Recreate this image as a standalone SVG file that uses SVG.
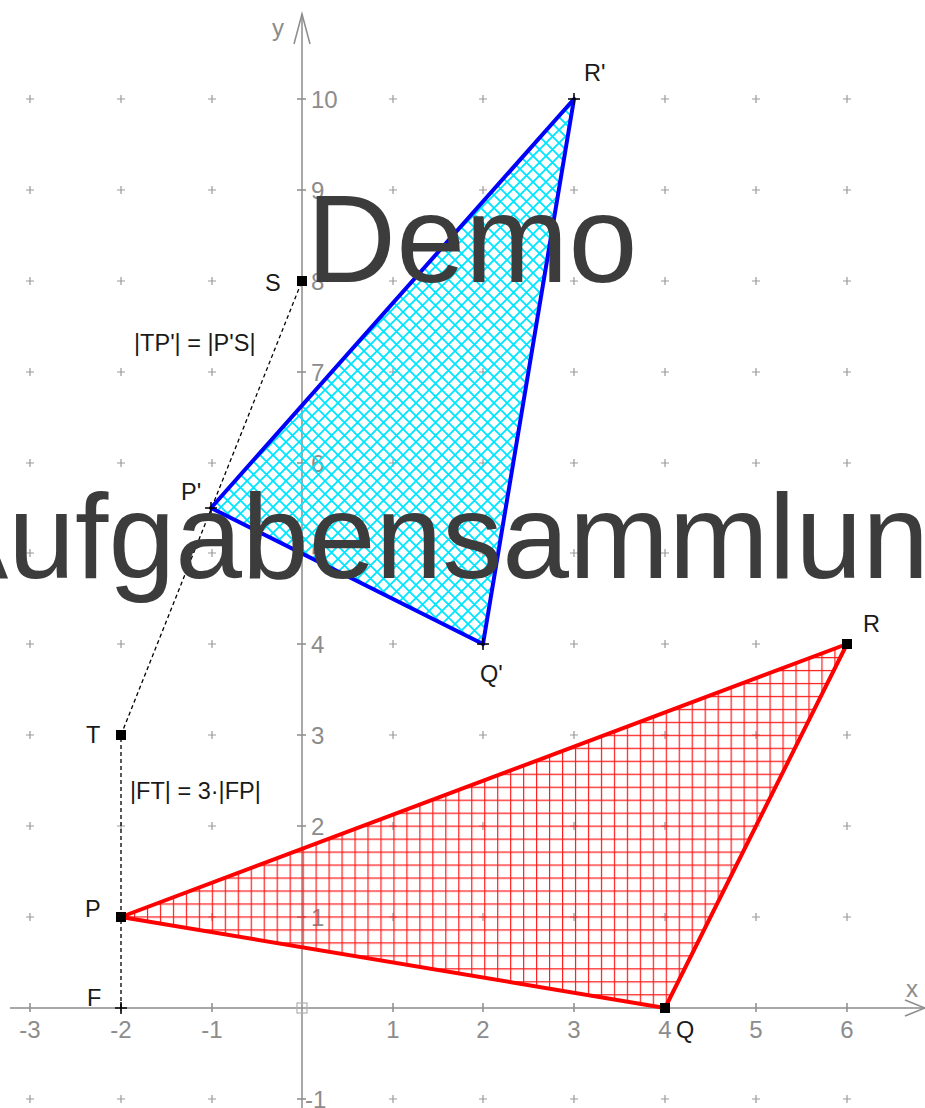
<svg xmlns="http://www.w3.org/2000/svg" width="925" height="1108" viewBox="0 0 925 1108">
<style>
.ax{stroke:#8c8c8c;stroke-width:1.5;fill:none}
.gc{stroke:#9a9a9a;stroke-width:1.2}
.tl{font-family:"Liberation Sans",Arial,sans-serif;font-size:24px;fill:#8c8c8c}
.lb{font-family:"Liberation Sans",Arial,sans-serif;font-size:23.5px;fill:#1a1a1a}
.dash{stroke:#000;stroke-width:1.3;stroke-dasharray:4 3;fill:none}
.pt{fill:#000}
.cr{stroke:#000;stroke-width:1.5}
.wm{font-family:"Liberation Sans",Arial,sans-serif;fill:#3c3c3c;text-anchor:middle}
</style>
<defs>
<pattern id="redHatch" patternUnits="userSpaceOnUse" width="12.97" height="12.97" x="121" y="644">
<path d="M0 0V12.97M0 0H12.97" stroke="#ff1a1a" stroke-width="2.4"/>
</pattern>
<pattern id="cyanHatch" patternUnits="userSpaceOnUse" width="13" height="13">
<path d="M0 0L13 13M13 0L0 13" stroke="#00e5ff" stroke-width="1.8"/>
</pattern>
</defs>
<g id="grid">
<path class="gc" d="M26 99h8M30 95v8M117 99h8M121 95v8M208 99h8M212 95v8M389 99h8M393 95v8M479 99h8M483 95v8M570 99h8M574 95v8M661 99h8M665 95v8M752 99h8M756 95v8M843 99h8M847 95v8
M26 190h8M30 186v8M117 190h8M121 186v8M208 190h8M212 186v8M389 190h8M393 186v8M479 190h8M483 186v8M570 190h8M574 186v8M661 190h8M665 186v8M752 190h8M756 186v8M843 190h8M847 186v8
M26 281h8M30 277v8M117 281h8M121 277v8M208 281h8M212 277v8M389 281h8M393 277v8M479 281h8M483 277v8M570 281h8M574 277v8M661 281h8M665 277v8M752 281h8M756 277v8M843 281h8M847 277v8
M26 372h8M30 368v8M117 372h8M121 368v8M208 372h8M212 368v8M389 372h8M393 368v8M479 372h8M483 368v8M570 372h8M574 368v8M661 372h8M665 368v8M752 372h8M756 368v8M843 372h8M847 368v8
M26 463h8M30 459v8M117 463h8M121 459v8M208 463h8M212 459v8M389 463h8M393 459v8M479 463h8M483 459v8M570 463h8M574 459v8M661 463h8M665 459v8M752 463h8M756 459v8M843 463h8M847 459v8
M26 553h8M30 549v8M117 553h8M121 549v8M208 553h8M212 549v8M389 553h8M393 549v8M479 553h8M483 549v8M570 553h8M574 549v8M661 553h8M665 549v8M752 553h8M756 549v8M843 553h8M847 549v8
M26 644h8M30 640v8M117 644h8M121 640v8M208 644h8M212 640v8M389 644h8M393 640v8M479 644h8M483 640v8M570 644h8M574 640v8M661 644h8M665 640v8M752 644h8M756 640v8M843 644h8M847 640v8
M26 735h8M30 731v8M117 735h8M121 731v8M208 735h8M212 731v8M389 735h8M393 731v8M479 735h8M483 731v8M570 735h8M574 731v8M661 735h8M665 731v8M752 735h8M756 731v8M843 735h8M847 731v8
M26 826h8M30 822v8M117 826h8M121 822v8M208 826h8M212 822v8M389 826h8M393 822v8M479 826h8M483 822v8M570 826h8M574 822v8M661 826h8M665 822v8M752 826h8M756 822v8M843 826h8M847 822v8
M26 917h8M30 913v8M117 917h8M121 913v8M208 917h8M212 913v8M389 917h8M393 913v8M479 917h8M483 913v8M570 917h8M574 913v8M661 917h8M665 913v8M752 917h8M756 913v8M843 917h8M847 913v8
M26 1099h8M30 1095v8M117 1099h8M121 1095v8M208 1099h8M212 1095v8M389 1099h8M393 1095v8M479 1099h8M483 1095v8M570 1099h8M574 1095v8M661 1099h8M665 1095v8M752 1099h8M756 1095v8M843 1099h8M847 1095v8"/>
</g>
<g id="axes">
<path class="ax" d="M10 1008H925M302 1108V14"/>
<path class="ax" d="M294 44L302 14L310 44M905 1000L925 1008L905 1016"/>
<path class="ax" d="M30 1003v9M121 1003v9M212 1003v9M393 1003v9M483 1003v9M574 1003v9M665 1003v9M756 1003v9M847 1003v9
M297 99h9M297 190h9M297 281h9M297 372h9M297 463h9M297 553h9M297 644h9M297 735h9M297 826h9M297 917h9M297 1099h9"/>
<rect x="297" y="1003" width="10" height="10" fill="none" stroke="#b0b0b0" stroke-width="1.2"/>
<text class="tl" x="272" y="36">y</text>
<text class="tl" x="906" y="997">x</text>
<g class="tl" text-anchor="middle">
<text x="30" y="1038">-3</text><text x="121" y="1038">-2</text><text x="212" y="1038">-1</text>
<text x="393" y="1038">1</text><text x="483" y="1038">2</text><text x="574" y="1038">3</text>
<text x="665" y="1038">4</text><text x="756" y="1038">5</text><text x="847" y="1038">6</text>
</g>
<g class="tl">
<text x="311" y="108">10</text><text x="311" y="199">9</text><text x="311" y="290">8</text>
<text x="311" y="381">7</text><text x="311" y="472">6</text><text x="311" y="562">5</text>
<text x="311" y="653">4</text><text x="311" y="744">3</text><text x="311" y="835">2</text>
<text x="311" y="926">1</text><text x="305" y="1108">-1</text>
</g>
</g>
<g id="connectors">
<path class="dash" d="M121 1008V735L302 281"/>
</g>
<g id="triangle-PQR">
<polygon points="121,917 665,1008 847,644" fill="url(#redHatch)" stroke="#ff0000" stroke-width="4" stroke-linejoin="round"/>
</g>
<g id="triangle-PprimeQprimeRprime">
<polygon points="211,508 483,644 574,99" fill="url(#cyanHatch)" stroke="#0000ff" stroke-width="4" stroke-linejoin="round"/>
</g>
<g id="point-P"><rect class="pt" x="116" y="912" width="10" height="10"/><text class="lb" x="85" y="917">P</text></g>
<g id="point-Q"><rect class="pt" x="660" y="1003" width="10" height="10"/><text class="lb" x="676" y="1038">Q</text></g>
<g id="point-R"><rect class="pt" x="842" y="639" width="10" height="10"/><text class="lb" x="863" y="632">R</text></g>
<g id="point-S"><rect class="pt" x="297" y="276" width="10" height="10"/><text class="lb" x="265" y="291">S</text></g>
<g id="point-T"><rect class="pt" x="116" y="730" width="10" height="10"/><text class="lb" x="86" y="743">T</text></g>
<g id="point-F"><path class="cr" d="M115 1008h12M121 1002v12"/><text class="lb" x="87" y="1006">F</text></g>
<g id="point-Pprime"><path class="cr" d="M205 508h12M211 502v12"/><text class="lb" x="181" y="500">P'</text></g>
<g id="point-Qprime"><path class="cr" d="M477 644h12M483 638v12"/><text class="lb" x="480" y="682">Q'</text></g>
<g id="point-Rprime"><path class="cr" d="M568 99h12M574 93v12"/><text class="lb" x="584" y="81">R'</text></g>
<g id="label-TP"><text class="lb" x="134" y="351">|TP'| = |P'S|</text></g>
<g id="label-FT"><text class="lb" x="130" y="799">|FT| = 3·|FP|</text></g>
<g id="watermark">
<text class="wm" x="472" y="282" style="font-size:124px">Demo</text>
<text class="wm" x="462" y="578" style="font-size:120px">Aufgabensammlung</text>
</g>
</svg>
